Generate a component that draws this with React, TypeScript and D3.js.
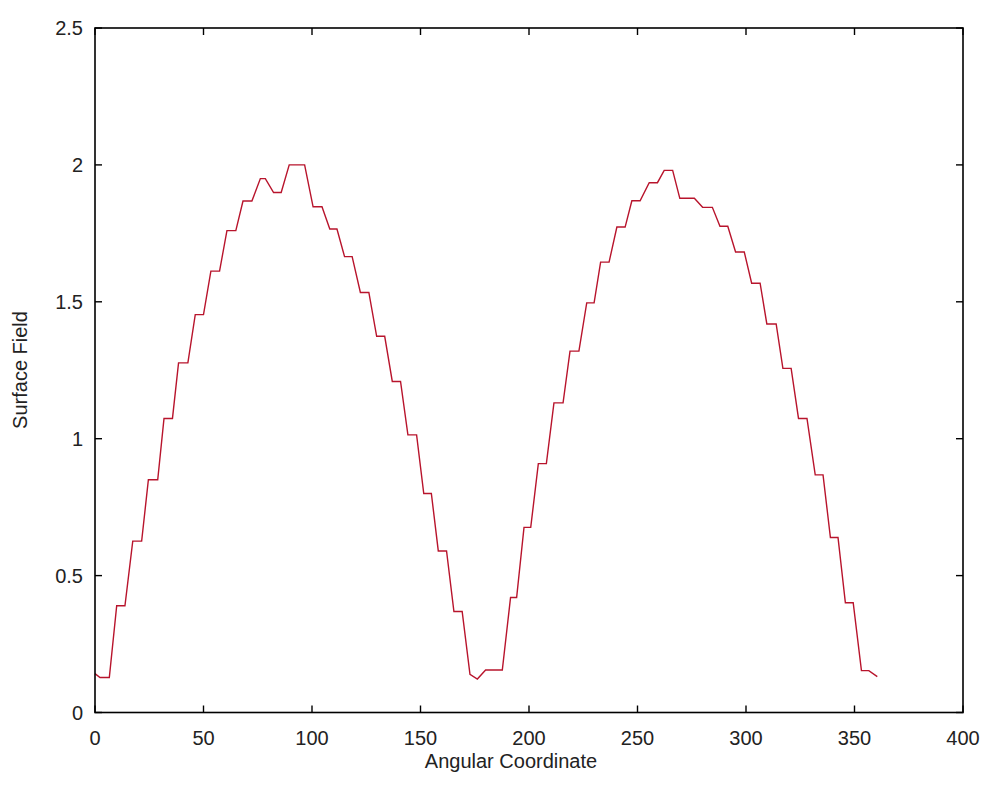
import React from "react";
import * as d3 from "d3";

const angle = [0, 2.3, 6.6, 10, 13.8, 17.4, 21.5, 24.6, 28.9, 31.8, 35.7, 38.5, 42.8, 46.2, 50, 53.4, 57.4, 60.8, 64.9, 68.2, 72.3, 76.2, 78.5, 82.3, 85.8, 89.5, 96.6, 100.5, 104.6, 108.2, 111.5, 115, 118.5, 122.3, 126.2, 129.8, 133.5, 137, 140.8, 144.2, 148.2, 151.5, 155, 158.2, 162, 165.4, 169.2, 172.8, 176.2, 180, 187.7, 191.5, 194.3, 197.7, 200.8, 204.3, 208, 211.5, 215.7, 218.9, 223, 226.6, 230, 233, 236.9, 240.5, 244.3, 247.4, 251.2, 255.4, 259.2, 262.3, 266.2, 269.5, 276.2, 280, 284.5, 288, 291.6, 295.2, 299.2, 302.6, 306.5, 309.6, 313.9, 317, 320.8, 324.2, 328.1, 331.9, 335.5, 338.9, 342.4, 345.8, 349.4, 353.2, 356.6, 360.5];
const field = [0.142, 0.128, 0.128, 0.39, 0.39, 0.626, 0.626, 0.85, 0.85, 1.074, 1.074, 1.277, 1.277, 1.453, 1.453, 1.612, 1.612, 1.76, 1.76, 1.868, 1.868, 1.95, 1.95, 1.899, 1.899, 2.0, 2.0, 1.847, 1.847, 1.766, 1.766, 1.665, 1.665, 1.534, 1.534, 1.374, 1.374, 1.209, 1.209, 1.014, 1.014, 0.8, 0.8, 0.59, 0.59, 0.369, 0.369, 0.139, 0.122, 0.155, 0.155, 0.42, 0.42, 0.676, 0.676, 0.909, 0.909, 1.131, 1.131, 1.32, 1.32, 1.496, 1.496, 1.645, 1.645, 1.773, 1.773, 1.869, 1.869, 1.935, 1.935, 1.98, 1.98, 1.878, 1.878, 1.845, 1.845, 1.776, 1.776, 1.682, 1.682, 1.568, 1.568, 1.419, 1.419, 1.257, 1.257, 1.074, 1.074, 0.868, 0.868, 0.639, 0.639, 0.401, 0.401, 0.153, 0.153, 0.131];

const xTicks = [0, 50, 100, 150, 200, 250, 300, 350, 400];
const yTicks = [0, 0.5, 1, 1.5, 2, 2.5];
const xLabel = "Angular Coordinate";
const yLabel = "Surface Field";

const W = 988;
const H = 785;
const L = 95, R = 963, T = 28, B = 712.5;

export default function App() {
  const x = d3.scaleLinear().domain([0, 400]).range([L, R]);
  const y = d3.scaleLinear().domain([0, 2.5]).range([B, T]);
  const pts: [number, number][] = angle.map((a, i) => [a, field[i]]);
  const line = d3.line<[number, number]>().x((d) => x(d[0])).y((d) => y(d[1]));
  const font = "'Liberation Sans', Arial, sans-serif";
  const fs = 20;
  const tl = 7;
  const col = "#222";
  return (
    <svg width={W} height={H} style={{ position: "absolute", left: 0, top: 0, background: "#fff" }}>
      <rect x={0} y={0} width={W} height={H} fill="#fff" />
      <path d={line(pts) || ""} fill="none" stroke="#b8142c" strokeWidth={1.4} />
      <rect x={L} y={T} width={R - L} height={B - T} fill="none" stroke="#000" strokeWidth={1.6} />
      {xTicks.map((t) => (
        <g key={"x" + t}>
          <line x1={x(t)} x2={x(t)} y1={B} y2={B - tl} stroke="#000" strokeWidth={1.4} />
          <line x1={x(t)} x2={x(t)} y1={T} y2={T + tl} stroke="#000" strokeWidth={1.4} />
          <text x={x(t)} y={B + 32} textAnchor="middle" fontFamily={font} fontSize={fs} fill={col}>{t}</text>
        </g>
      ))}
      {yTicks.map((t) => (
        <g key={"y" + t}>
          <line x1={L} x2={L + tl} y1={y(t)} y2={y(t)} stroke="#000" strokeWidth={1.4} />
          <line x1={R} x2={R - tl} y1={y(t)} y2={y(t)} stroke="#000" strokeWidth={1.4} />
          <text x={L - 12} y={y(t) + 7} textAnchor="end" fontFamily={font} fontSize={fs} fill={col}>{t}</text>
        </g>
      ))}
      <text x={511} y={B + 55} textAnchor="middle" fontFamily={font} fontSize={fs} fill={col}>{xLabel}</text>
      <text transform={`translate(27, ${370}) rotate(-90)`} textAnchor="middle" fontFamily={font} fontSize={fs} fill={col}>{yLabel}</text>
    </svg>
  );
}
